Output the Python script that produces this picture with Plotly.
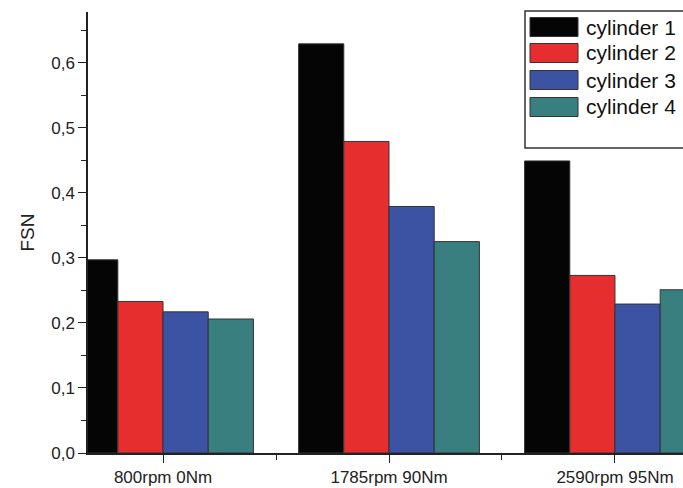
import plotly.graph_objects as go

categories = ["800rpm 0Nm", "1785rpm 90Nm", "2590rpm 95Nm"]
series_names = ["cylinder 1", "cylinder 2", "cylinder 3", "cylinder 4"]
cyl1 = [0.297, 0.629, 0.449]
cyl2 = [0.233, 0.479, 0.273]
cyl3 = [0.217, 0.379, 0.229]
cyl4 = [0.206, 0.325, 0.251]
values = [cyl1, cyl2, cyl3, cyl4]
colors = ["#050505", "#e62e2f", "#3c53a3", "#3a7f80"]
y_ticks = [0.0, 0.1, 0.2, 0.3, 0.4, 0.5, 0.6]

W, H = 683, 488
ML, MR, MT, MB = 88, 0, 12, 35
PW, PH = W - ML - MR, H - MT - MB

def px_x(p):
    return (p - ML) / PW

def px_y(p):
    return (H - MB - p) / PH

xpos = list(range(len(categories)))

fig = go.Figure()
for name, vals, col in zip(series_names, values, colors):
    fig.add_trace(go.Bar(
        x=xpos, y=vals, name=name,
        marker=dict(color=col, line=dict(color="#333333", width=1)),
        showlegend=False,
    ))

# custom legend box (large swatches like the original)
fig.add_shape(type="rect", xref="paper", yref="paper",
              x0=px_x(525), x1=px_x(700), y0=px_y(148), y1=px_y(11),
              line=dict(color="#333333", width=1.5), fillcolor="white", layer="above")
row_centers = [27, 53, 80, 107]
for name, col, yc in zip(series_names, colors, row_centers):
    fig.add_shape(type="rect", xref="paper", yref="paper",
                  x0=px_x(530), x1=px_x(578), y0=px_y(yc + 9.5), y1=px_y(yc - 9.5),
                  line=dict(color="#333333", width=1), fillcolor=col, layer="above")
    fig.add_annotation(xref="paper", yref="paper", x=px_x(584), y=px_y(yc),
                       text=name, showarrow=False, xanchor="left", yanchor="middle",
                       font=dict(family="Liberation Sans, Arial, sans-serif", size=21, color="#111111"))

fig.update_layout(
    width=W, height=H,
    margin=dict(l=ML, r=MR, t=MT, b=MB),
    paper_bgcolor="white", plot_bgcolor="white",
    barmode="group", bargap=0.2, bargroupgap=0,
    separators=",.",
    font=dict(family="Liberation Sans, Arial, sans-serif", size=17, color="#222222"),
    xaxis=dict(
        range=[-0.332, 2.301], tickvals=xpos, ticktext=categories,
        showline=True, linecolor="#222222", linewidth=1.5,
        ticks="outside", ticklen=8, tickcolor="#222222",
        minor=dict(tick0=0.5, dtick=1, ticks="outside", ticklen=5, tickcolor="#222222"),
        showgrid=False, zeroline=False,
    ),
    yaxis=dict(
        range=[0, 0.678], tickvals=y_ticks, tickformat=".1f",
        showline=True, linecolor="#222222", linewidth=1.5,
        ticks="outside", ticklen=8, tickcolor="#222222",
        minor=dict(dtick=0.05, ticks="outside", ticklen=5, tickcolor="#222222"),
        showgrid=False, zeroline=False,
        title=dict(text="FSN", standoff=12, font=dict(size=19)),
    ),
)

fig.write_html("out.html",
               config={"displayModeBar": False},
               post_script="document.body.style.margin='0';document.body.style.overflow='hidden';")
